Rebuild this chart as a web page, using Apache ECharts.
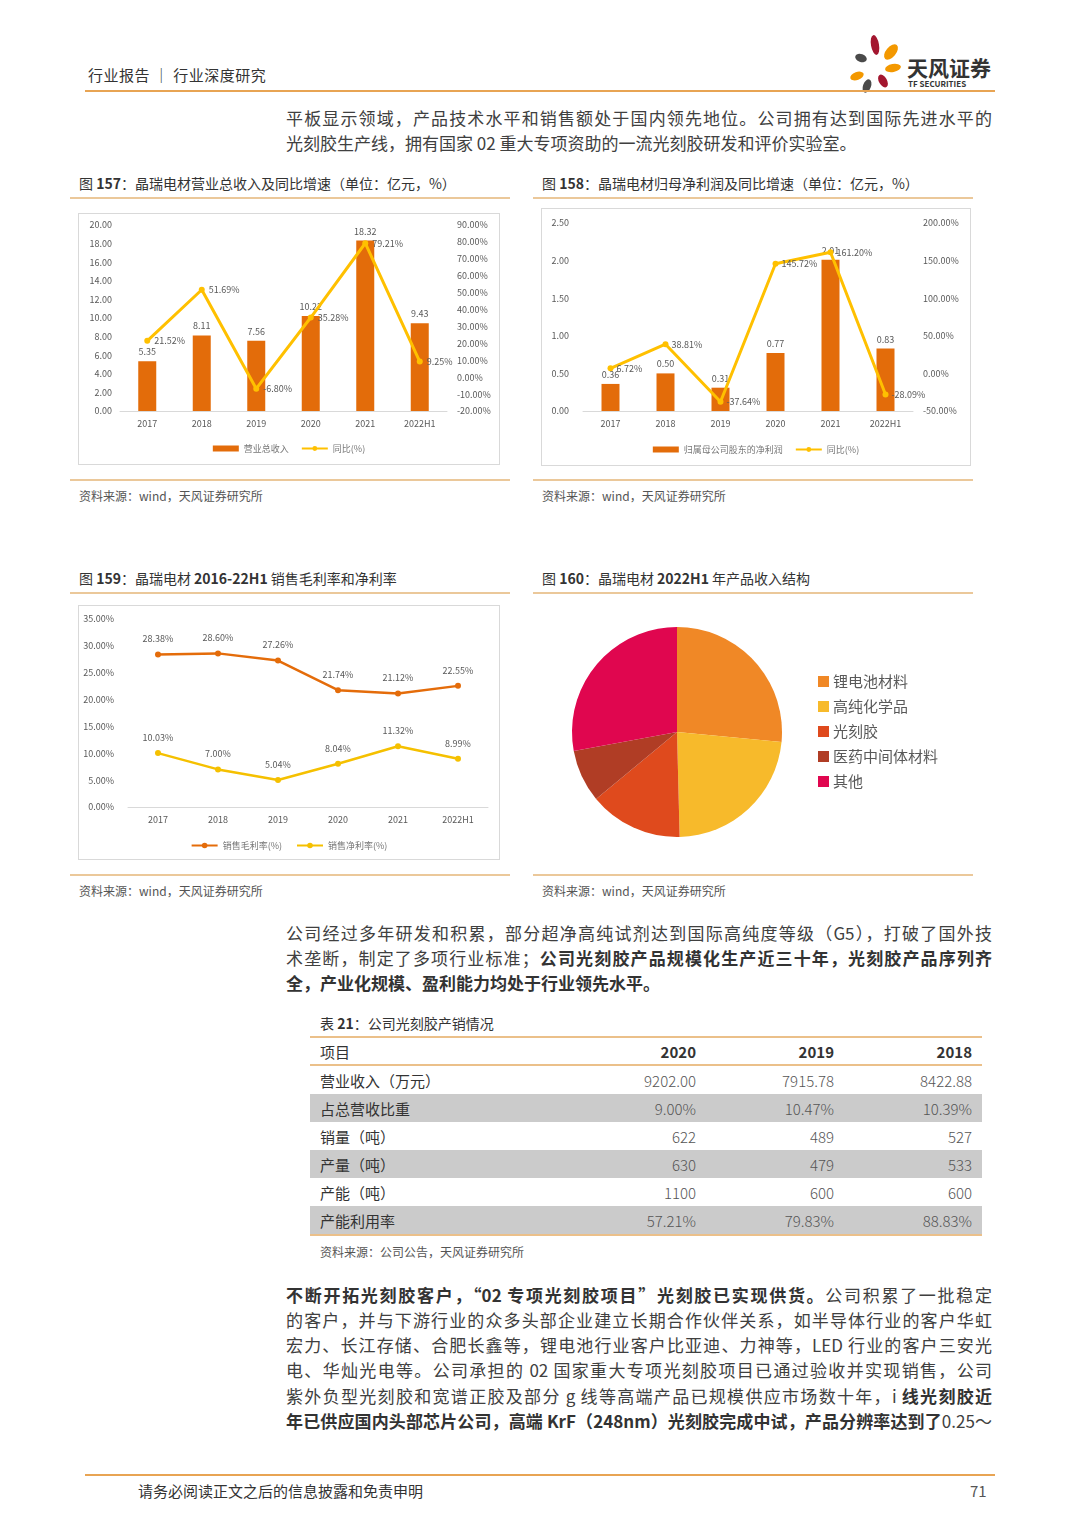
<!DOCTYPE html>
<html><head><meta charset="utf-8">
<script src="https://cdn.jsdelivr.net/npm/echarts@6/dist/echarts.min.js"></script>
<style>
html,body{margin:0;padding:0;background:#fff;}
body{width:1080px;height:1527px;position:relative;overflow:hidden;font-family:"Noto Sans CJK SC","Noto Sans",sans-serif;color:#404040;}
.abs{position:absolute;}
.hl{position:absolute;height:2px;background:#EBC89A;}
.ln{position:absolute;left:286px;width:706px;height:25px;line-height:25px;font-size:17px;white-space:nowrap;text-align:justify;text-align-last:justify;color:#404040;}
.ln.last{text-align-last:left;}
b{font-weight:bold;color:#333;}
.cap{position:absolute;font-size:14px;color:#333;white-space:nowrap;}
.src{position:absolute;font-size:12px;color:#555;white-space:nowrap;}
.box{position:absolute;border:1px solid #D9D9D9;box-sizing:border-box;}
table{border-collapse:collapse;table-layout:fixed;}
#tbl{position:absolute;left:310px;top:1036px;width:672px;border-top:2px solid #EBC08A;border-bottom:2px solid #EBC08A;}
#tbl td{height:28px;padding:0 10px;font-size:15px;color:#555;font-weight:300;}
#tbl td.n{text-align:right;}
#tbl tr.h td{border-bottom:2px solid #EBC08A;color:#333;height:26px;}
#tbl tr.g td{background:#CBCBCB;}
</style></head>
<body>
<!-- header -->
<div class="abs" style="left:88px;top:64px;font-size:15px;color:#333;white-space:nowrap;letter-spacing:0.5px;">行业报告 ｜ 行业深度研究</div>
<svg class="abs" style="left:845px;top:34px;" width="62" height="60" viewBox="0 0 62 60">
  <ellipse cx="30" cy="11" rx="4" ry="10" fill="#A3162F" transform="rotate(-10 30 11)"/>
  <ellipse cx="46" cy="18" rx="5" ry="9" fill="#F39800" transform="rotate(40 46 18)"/>
  <ellipse cx="16" cy="24" rx="6" ry="4" fill="#4A4A4A" transform="rotate(20 16 24)"/>
  <ellipse cx="48" cy="34" rx="8" ry="4" fill="#F39800" transform="rotate(-10 48 34)"/>
  <ellipse cx="12" cy="42" rx="7" ry="4" fill="#F39800" transform="rotate(-20 12 42)"/>
  <ellipse cx="38" cy="47" rx="4" ry="7" fill="#A3162F" transform="rotate(-30 38 47)"/>
  <ellipse cx="22" cy="52" rx="4" ry="7" fill="#4A4A4A" transform="rotate(20 22 52)"/>
</svg>
<div class="abs" style="left:907px;top:52px;font-size:21px;font-weight:bold;color:#333;white-space:nowrap;">天风证券</div>
<div class="abs" style="left:908px;top:78px;font-size:8px;font-weight:bold;color:#333;white-space:nowrap;">TF SECURITIES</div>
<div class="abs" style="left:85px;top:90px;width:910px;height:2px;background:#E8A453;"></div>

<div class="ln" style="top:105px;">平板显示领域，产品技术水平和销售额处于国内领先地位。公司拥有达到国际先进水平的</div>
<div class="ln last" style="top:130px;">光刻胶生产线，拥有国家 02 重大专项资助的一流光刻胶研发和评价实验室。</div>

<!-- figure titles row 1 -->
<div class="cap" style="left:79px;top:173px;">图 <b>157</b>：晶瑞电材营业总收入及同比增速（单位：亿元，%）</div>
<div class="cap" style="left:542px;top:173px;">图 <b>158</b>：晶瑞电材归母净利润及同比增速（单位：亿元，%）</div>
<div class="hl" style="left:70px;top:197px;width:440px;"></div>
<div class="hl" style="left:533px;top:197px;width:440px;"></div>

<div class="box" style="left:78px;top:213px;width:422px;height:252px;"></div>
<div class="box" style="left:541px;top:208px;width:430px;height:258px;"></div>
<div id="c1" class="abs" style="left:78px;top:213px;width:422px;height:252px;"></div>
<div id="c2" class="abs" style="left:541px;top:208px;width:430px;height:258px;"></div>

<div class="hl" style="left:70px;top:479px;width:440px;"></div>
<div class="hl" style="left:533px;top:479px;width:440px;"></div>
<div class="src" style="left:79px;top:487px;">资料来源：wind，天风证券研究所</div>
<div class="src" style="left:542px;top:487px;">资料来源：wind，天风证券研究所</div>

<!-- figure titles row 2 -->
<div class="cap" style="left:79px;top:568px;">图 <b>159</b>：晶瑞电材 <b>2016-22H1</b> 销售毛利率和净利率</div>
<div class="cap" style="left:542px;top:568px;">图 <b>160</b>：晶瑞电材 <b>2022H1</b> 年产品收入结构</div>
<div class="hl" style="left:70px;top:592px;width:440px;"></div>
<div class="hl" style="left:533px;top:592px;width:440px;"></div>

<div class="box" style="left:78px;top:605px;width:422px;height:255px;"></div>
<div id="c3" class="abs" style="left:78px;top:605px;width:422px;height:255px;"></div>
<div id="c4" class="abs" style="left:533px;top:605px;width:440px;height:260px;"></div>

<div class="hl" style="left:70px;top:874px;width:440px;"></div>
<div class="hl" style="left:533px;top:874px;width:440px;"></div>
<div class="src" style="left:79px;top:882px;">资料来源：wind，天风证券研究所</div>
<div class="src" style="left:542px;top:882px;">资料来源：wind，天风证券研究所</div>

<div class="ln" style="top:920px;">公司经过多年研发和积累，部分超净高纯试剂达到国际高纯度等级（G5），打破了国外技</div>
<div class="ln" style="top:945px;">术垄断，制定了多项行业标准；<b>公司光刻胶产品规模化生产近三十年，光刻胶产品序列齐</b></div>
<div class="ln last" style="top:970px;"><b>全，产业化规模、盈利能力均处于行业领先水平。</b></div>

<div class="cap" style="left:320px;top:1013px;">表 <b>21</b>：公司光刻胶产销情况</div>
<table id="tbl"><colgroup><col style="width:258px"><col style="width:138px"><col style="width:138px"><col style="width:138px"></colgroup><tbody id="tbody"></tbody></table>
<div class="src" style="left:320px;top:1243px;">资料来源：公司公告，天风证券研究所</div>

<div class="ln" style="top:1282px;"><b>不断开拓光刻胶客户，“02 专项光刻胶项目”光刻胶已实现供货。</b>公司积累了一批稳定</div>
<div class="ln" style="top:1307px;">的客户，并与下游行业的众多头部企业建立长期合作伙伴关系，如半导体行业的客户华虹</div>
<div class="ln" style="top:1332px;">宏力、长江存储、合肥长鑫等，锂电池行业客户比亚迪、力神等，LED 行业的客户三安光</div>
<div class="ln" style="top:1357px;">电、华灿光电等。公司承担的 02 国家重大专项光刻胶项目已通过验收并实现销售，公司</div>
<div class="ln" style="top:1383px;">紫外负型光刻胶和宽谱正胶及部分 g 线等高端产品已规模供应市场数十年，i <b>线光刻胶近</b></div>
<div class="ln" style="top:1408px;"><b>年已供应国内头部芯片公司，高端 KrF（248nm）光刻胶完成中试，产品分辨率达到了</b>0.25～</div>

<div class="abs" style="left:85px;top:1474px;width:910px;height:2px;background:#E8A453;"></div>
<div class="abs" style="left:138px;top:1480px;font-size:15px;color:#333;white-space:nowrap;">请务必阅读正文之后的信息披露和免责申明</div>
<div class="abs" style="left:970px;top:1480px;font-size:15px;color:#555;">71</div>

<script>
// ---- data ----
const categories = ['2017','2018','2019','2020','2021','2022H1'];
const revenue = [5.35, 8.11, 7.56, 10.22, 18.32, 9.43];
const revenueYoy = [21.52, 51.69, -6.80, 35.28, 79.21, 9.25];
const netProfit = [0.36, 0.50, 0.31, 0.77, 2.01, 0.83];
const netProfitYoy = [6.72, 38.81, -37.64, 145.72, 161.20, -28.09];
const grossMargin = [28.38, 28.60, 27.26, 21.74, 21.12, 22.55];
const netMargin = [10.03, 7.00, 5.04, 8.04, 11.32, 8.99];
const pieNames = ['锂电池材料','高纯化学品','光刻胶','医药中间体材料','其他'];
const pieValues = [26.5, 23.1, 14.4, 8.1, 27.9];
const pieColors = ['#F08826','#F7BA2B','#DF4A1D','#B03D25','#E0064F'];
const tableHeader = ['项目','2020','2019','2018'];
const tableRows = [
  ['营业收入（万元）','9202.00','7915.78','8422.88'],
  ['占总营收比重','9.00%','10.47%','10.39%'],
  ['销量（吨）','622','489','527'],
  ['产量（吨）','630','479','533'],
  ['产能（吨）','1100','600','600'],
  ['产能利用率','57.21%','79.83%','88.83%']
];

// ---- table ----
(function(){
  const tb = document.getElementById('tbody');
  let h = '<tr class="h">' + tableHeader.map((t,i)=> i===0 ? '<td style="font-weight:400">'+t+'</td>' : '<td class="n" style="font-weight:bold">'+t+'</td>').join('') + '</tr>';
  tableRows.forEach((r,ri)=>{
    h += '<tr class="'+(ri%2===1?'g':'')+'">' + r.map((t,i)=> i===0 ? '<td style="color:#333;font-weight:400">'+t+'</td>' : '<td class="n">'+t+'</td>').join('') + '</tr>';
  });
  tb.innerHTML = h;
})();

const FONT = '"Noto Sans CJK SC","Noto Sans",sans-serif';
const GRAY = '#595959';
const BAR = '#E36C0A';
const YEL = '#FFC000';

function xAxisCfg(){
  return {type:'category', data:categories, axisTick:{show:false},
    axisLine:{lineStyle:{color:'#D9D9D9'}},
    axisLabel:{color:GRAY, fontSize:9, fontFamily:FONT, margin:8}};
}
function yAxisCfg(min,max,interval,fmt,margin){
  return {type:'value', min:min, max:max, interval:interval,
    axisLine:{show:false}, axisTick:{show:false}, splitLine:{show:false},
    axisLabel:{color:GRAY, fontSize:9, fontFamily:FONT, formatter:fmt, margin:margin}};
}
const legendText = {color:'#777', fontSize:9, fontFamily:FONT};

// chart 157
const c1 = echarts.init(document.getElementById('c1'));
c1.setOption({
  animation:false,
  grid:{left:42, right:53, top:12, bottom:54},
  legend:{top:226, left:'center', itemWidth:26, itemHeight:6, itemGap:12, textStyle:legendText,
    data:[{name:'营业总收入', icon:'rect'}, {name:'同比(%)'}]},
  xAxis:xAxisCfg(),
  yAxis:[yAxisCfg(0,20,2,v=>v.toFixed(2),8), yAxisCfg(-20,90,10,v=>v.toFixed(2)+'%',10)],
  series:[
    {name:'营业总收入', type:'bar', data:revenue, barWidth:18, itemStyle:{color:BAR},
     label:{show:true, position:'top', color:GRAY, fontSize:9, fontFamily:FONT, formatter:p=>p.value.toFixed(2)}},
    {name:'同比(%)', type:'line', yAxisIndex:1, data:revenueYoy, symbol:'circle', symbolSize:6,
     lineStyle:{color:YEL, width:3}, itemStyle:{color:YEL},
     label:{show:true, position:'right', distance:4, color:GRAY, fontSize:9, fontFamily:FONT, formatter:p=>p.value.toFixed(2)+'%'}}
  ]
});

// chart 158
const c2 = echarts.init(document.getElementById('c2'));
c2.setOption({
  animation:false,
  grid:{left:42, right:58, top:15, bottom:55},
  legend:{top:232, left:'center', itemWidth:26, itemHeight:6, itemGap:12, textStyle:legendText,
    data:[{name:'归属母公司股东的净利润', icon:'rect'}, {name:'同比(%)'}]},
  xAxis:xAxisCfg(),
  yAxis:[yAxisCfg(0,2.5,0.5,v=>v.toFixed(2),14), yAxisCfg(-50,200,50,v=>v.toFixed(2)+'%',10)],
  series:[
    {name:'归属母公司股东的净利润', type:'bar', data:netProfit, barWidth:18, itemStyle:{color:BAR},
     label:{show:true, position:'top', color:GRAY, fontSize:9, fontFamily:FONT, formatter:p=>p.value.toFixed(2)}},
    {name:'同比(%)', type:'line', yAxisIndex:1, data:netProfitYoy, symbol:'circle', symbolSize:6,
     lineStyle:{color:YEL, width:3}, itemStyle:{color:YEL},
     label:{show:true, position:'right', distance:3, color:GRAY, fontSize:9, fontFamily:FONT, formatter:p=>p.value.toFixed(2)+'%'}}
  ]
});

// chart 159
const c3 = echarts.init(document.getElementById('c3'));
c3.setOption({
  animation:false,
  grid:{left:50, right:12, top:14, bottom:53},
  legend:{top:231, left:'center', itemWidth:26, itemHeight:7, itemGap:14, textStyle:legendText,
    data:['销售毛利率(%)','销售净利率(%)']},
  xAxis:xAxisCfg(),
  yAxis:yAxisCfg(0,35,5,v=>v.toFixed(2)+'%',14),
  series:[
    {name:'销售毛利率(%)', type:'line', data:grossMargin, symbol:'circle', symbolSize:6,
     lineStyle:{color:'#E46C0A', width:2.5}, itemStyle:{color:'#E46C0A'},
     label:{show:true, position:'top', distance:8, color:GRAY, fontSize:9, fontFamily:FONT, formatter:p=>p.value.toFixed(2)+'%'}},
    {name:'销售净利率(%)', type:'line', data:netMargin, symbol:'circle', symbolSize:6,
     lineStyle:{color:'#F5C000', width:2.5}, itemStyle:{color:'#F5C000'},
     label:{show:true, position:'top', distance:8, color:GRAY, fontSize:9, fontFamily:FONT, formatter:p=>p.value.toFixed(2)+'%'}}
  ]
});

// chart 160
const c4 = echarts.init(document.getElementById('c4'));
c4.setOption({
  animation:false,
  color:pieColors,
  legend:{orient:'vertical', left:280, top:64, itemWidth:11, itemHeight:11, itemGap:10, icon:'rect',
    textStyle:{color:GRAY, fontSize:15, fontFamily:FONT, lineHeight:15, padding:[0,0,0,-1]}, data:pieNames},
  series:[{type:'pie', center:[144,127], radius:[0,105], startAngle:90, clockwise:true,
    label:{show:false}, labelLine:{show:false}, emphasis:{disabled:true},
    data:pieNames.map((n,i)=>({name:n, value:pieValues[i]}))}]
});
</script>
</body></html>
